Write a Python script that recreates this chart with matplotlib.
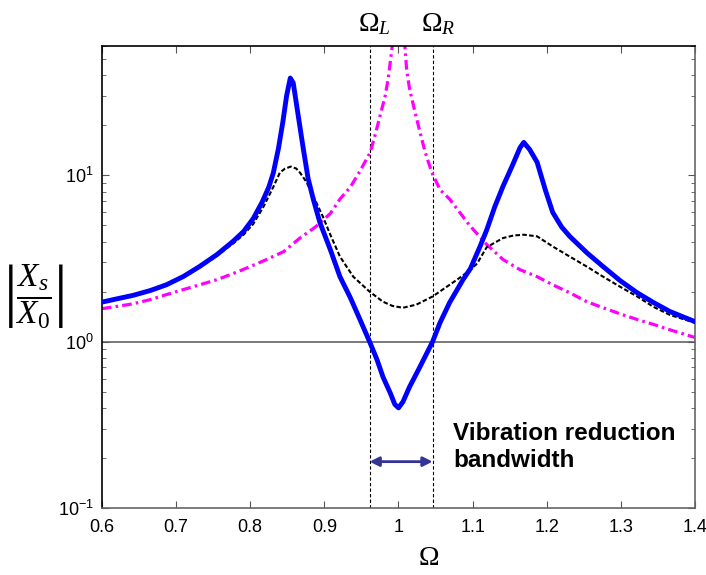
import matplotlib.pyplot as plt
import numpy as np

plt.rcParams['font.family'] = ['Liberation Sans', 'DejaVu Sans']
plt.rcParams['mathtext.fontset'] = 'custom'
plt.rcParams['mathtext.rm'] = 'Liberation Serif'
plt.rcParams['mathtext.it'] = 'Liberation Serif:italic'
plt.rcParams['mathtext.sf'] = 'Liberation Sans'

# values
x_blue = [0.60, 0.620, 0.642, 0.665, 0.687, 0.710, 0.732, 0.755, 0.777, 0.791, 0.804, 0.816,
          0.825, 0.831, 0.838, 0.844, 0.849, 0.854, 0.858, 0.864, 0.871, 0.878, 0.885, 0.894,
          0.908, 0.921, 0.935, 0.948, 0.961, 0.971, 0.979, 0.989, 0.995, 1.000, 1.006, 1.015,
          1.029, 1.046, 1.056, 1.069, 1.087, 1.097, 1.110, 1.119, 1.130, 1.141, 1.153, 1.164,
          1.169, 1.177, 1.187, 1.198, 1.208, 1.220, 1.231, 1.254, 1.276, 1.299, 1.322, 1.344,
          1.366, 1.384, 1.40]
y_blue = [1.73, 1.81, 1.90, 2.03, 2.20, 2.47, 2.84, 3.34, 4.02, 4.6, 5.5, 6.9,
          8.5, 10.3, 14.5, 21.0, 30.0, 38.5, 36.0, 24.0, 15.0, 9.6, 7.2, 5.2,
          3.58, 2.46, 1.84, 1.36, 1.0, 0.78, 0.615, 0.49, 0.42, 0.40, 0.435, 0.536,
          0.707, 1.0, 1.30, 1.72, 2.36, 2.75, 3.74, 4.7, 6.5, 8.6, 11.3, 14.7,
          15.8, 14.3, 12.0, 8.2, 6.0, 4.9, 4.3, 3.43, 2.83, 2.33, 1.97, 1.72,
          1.52, 1.41, 1.32]

x_black = [0.60, 0.620, 0.642, 0.665, 0.687, 0.710, 0.732, 0.755, 0.777, 0.791, 0.804, 0.818,
           0.831, 0.840, 0.847, 0.855, 0.862, 0.867, 0.876, 0.887, 0.898, 0.908, 0.921, 0.939,
           0.961, 0.979, 0.992, 1.006, 1.024, 1.046, 1.079, 1.097, 1.106, 1.119, 1.141, 1.155,
           1.169, 1.187, 1.208, 1.231, 1.254, 1.276, 1.299, 1.322, 1.344, 1.366, 1.40]
y_black = [1.72, 1.80, 1.89, 2.02, 2.19, 2.45, 2.80, 3.28, 3.90, 4.4, 5.1, 6.5,
           8.5, 10.4, 11.0, 11.3, 11.0, 10.4, 9.1, 7.2, 5.65, 4.4, 3.25, 2.46,
           2.0, 1.74, 1.64, 1.6, 1.67, 1.87, 2.36, 2.7, 2.95, 3.7, 4.2, 4.35,
           4.4, 4.3, 3.74, 3.25, 2.83, 2.46, 2.14, 1.87, 1.62, 1.45, 1.30]

x_mag = [0.60, 0.620, 0.642, 0.665, 0.687, 0.710, 0.732, 0.755, 0.777, 0.800, 0.822, 0.845,
         0.867, 0.888, 0.908, 0.921, 0.935, 0.948, 0.962, 0.968, 0.975, 0.982, 0.986, 0.991,
         1.000, 1.009, 1.011, 1.015, 1.022, 1.029, 1.036, 1.045, 1.056, 1.069, 1.096, 1.119,
         1.141, 1.164, 1.187, 1.208, 1.231, 1.254, 1.276, 1.299, 1.322, 1.344, 1.366, 1.40]
y_mag = [1.58, 1.63, 1.69, 1.79, 1.92, 2.06, 2.20, 2.36, 2.57, 2.83, 3.12, 3.48,
         4.2, 4.9, 5.9, 7.2, 8.5, 10.6, 13.8, 17.2, 22.7, 30.0, 38.0, 57.0,
         150.0, 57.0, 43.0, 33.0, 24.3, 18.2, 13.8, 10.4, 8.2, 7.2, 5.0, 3.84,
         3.12, 2.71, 2.46, 2.2, 1.97, 1.74, 1.6, 1.47, 1.36, 1.27, 1.18, 1.06]

omega_l, omega_r = 0.961, 1.046
arrow_y = 0.19

W, H = 706, 575
fig = plt.figure(figsize=(W / 100, H / 100), dpi=100)
ax = fig.add_axes([102 / W, 1 - 508 / H, (695 - 102) / W, (508 - 46) / H])

ax.axhline(1.0, color='#555555', lw=1.1, zorder=1)
for xv in (omega_l, omega_r):
    ax.axvline(xv, color='black', lw=0.8, dashes=(3, 2), zorder=1)

ax.plot(x_mag, y_mag, color='#ff00ff', lw=2.3, dashes=(3, 1.3, 0.8, 1.3), zorder=2)
ax.plot(x_black, y_black, color='black', lw=1.5, dashes=(2.2, 1.1), zorder=3)
ax.plot(x_blue, y_blue, color='#0000ff', lw=3.5, zorder=4, solid_joinstyle='round')

ax.annotate('', xy=(omega_l, arrow_y), xytext=(omega_r, arrow_y),
            arrowprops=dict(arrowstyle='<|-|>', color='#333399', lw=2, mutation_scale=14,
                            shrinkA=0, shrinkB=0))
ax.text(1.0735, 0.233, 'Vibration reduction\nbandwidth', fontsize=17.5, fontweight='bold',
        va='center', ha='left', linespacing=1.2)

ax.set_yscale('log')
ax.set_xlim(0.6, 1.4)
ax.set_ylim(0.1, 60)
ax.set_xticks(np.arange(0.6, 1.41, 0.1), labels=['0.6', '0.7', '0.8', '0.9', '1', '1.1', '1.2', '1.3', '1.4'])
ax.set_yticks([0.1, 1, 10], labels=[r'$\mathsf{10^{-1}}$', r'$\mathsf{10^{0}}$', r'$\mathsf{10^{1}}$'])
ax.yaxis.set_minor_locator(plt.matplotlib.ticker.LogLocator(base=10, subs=np.arange(2, 10)))
ax.yaxis.set_minor_formatter(plt.NullFormatter())
ax.tick_params(which='both', direction='in', top=True, right=True, colors='#555555',
               labelcolor='black', labelsize=13)
ax.tick_params(which='major', length=5)
ax.tick_params(which='minor', length=3)
ax.tick_params(axis='x', pad=8)
ax.tick_params(axis='y', pad=6)
for s in ('left', 'top'):
    ax.spines[s].set_color('black')
for s in ('right', 'bottom'):
    ax.spines[s].set_color('#666666')
for s in ax.spines.values():
    s.set_linewidth(1.2)

fig.text(374 / W, 1 - 24 / H, r'$\Omega_L$', fontsize=20, ha='center', va='center')
fig.text(438 / W, 1 - 24 / H, r'$\Omega_R$', fontsize=20, ha='center', va='center')
fig.text(429 / W, 1 - 558 / H, r'$\Omega$', fontsize=20, ha='center', va='center')
fig.text(34 / W, 1 - 297 / H, r'$\left|\dfrac{X_s}{X_0}\right|$', fontsize=24, ha='center', va='center')

fig.savefig('out.png', dpi=100)
